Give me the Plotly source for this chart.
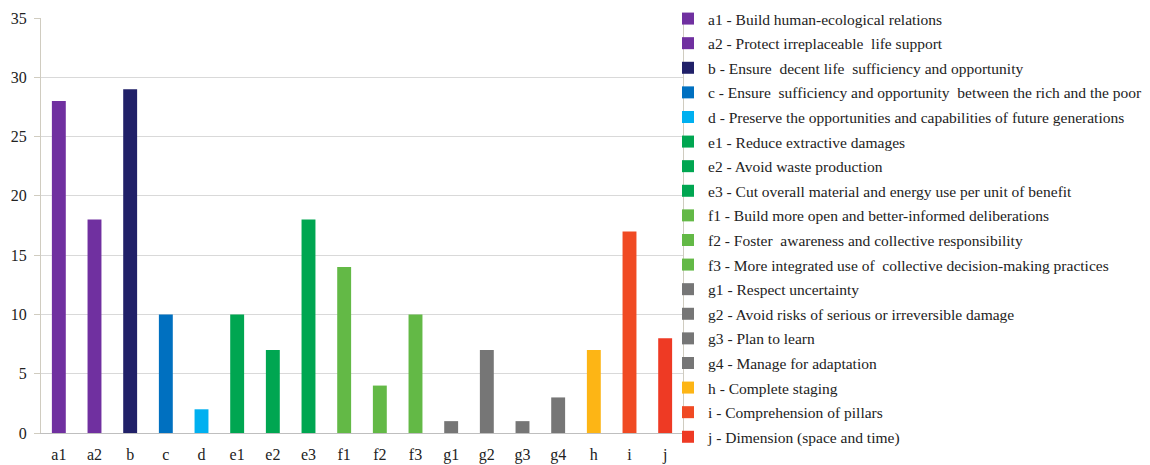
import plotly.graph_objects as go

# Criteria codes, counts and their descriptions
codes = ["a1", "a2", "b", "c", "d", "e1", "e2", "e3", "f1", "f2", "f3",
         "g1", "g2", "g3", "g4", "h", "i", "j"]
counts = [28, 18, 29, 10, 2, 10, 7, 18, 14, 4, 10, 1, 7, 1, 3, 7, 17, 8]
descriptions = [
    "Build human-ecological relations",
    "Protect irreplaceable  life support",
    "Ensure  decent life  sufficiency and opportunity",
    "Ensure  sufficiency and opportunity  between the rich and the poor",
    "Preserve the opportunities and capabilities of future generations",
    "Reduce extractive damages",
    "Avoid waste production",
    "Cut overall material and energy use per unit of benefit",
    "Build more open and better-informed deliberations",
    "Foster  awareness and collective responsibility",
    "More integrated use of  collective decision-making practices",
    "Respect uncertainty",
    "Avoid risks of serious or irreversible damage",
    "Plan to learn",
    "Manage for adaptation",
    "Complete staging",
    "Comprehension of pillars",
    "Dimension (space and time)",
]
colors = ["#7030A0", "#7030A0", "#202068", "#0070C0", "#00B0F0",
          "#00A651", "#00A651", "#00A651", "#63B946", "#63B946", "#63B946",
          "#767676", "#767676", "#767676", "#767676", "#FDB515",
          "#F04A23", "#EE3A24"]

FONT = "Liberation Serif"

fig = go.Figure()
for code, val, desc, col in zip(codes, counts, descriptions, colors):
    fig.add_trace(go.Bar(
        x=[code], y=[val], name=f"{code} - {desc}",
        marker=dict(color=col, line=dict(width=0)),
        legendgroup=code,
    ))

fig.update_layout(
    width=1150, height=465,
    margin=dict(l=41, r=467, t=18, b=32, autoexpand=False),
    paper_bgcolor="white", plot_bgcolor="white",
    barmode="overlay", bargap=0.61,
    font=dict(family=FONT, color="#222222"),
    showlegend=True,
    legend=dict(
        x=668 / 1150, xref="container", xanchor="left",
        y=1 - 2 / 465, yref="container", yanchor="top",
        font=dict(family=FONT, size=15.5, color="#222222"),
        tracegroupgap=1.45,
        maxheight=1.0,
        bgcolor="rgba(0,0,0,0)",
    ),
)

fig.update_xaxes(
    categoryorder="array", categoryarray=codes,
    showgrid=False, showline=True, linecolor="#BFBFBF", linewidth=1,
    ticks="", tickfont=dict(family=FONT, size=16, color="#222222"),
    ticklabelstandoff=7,
)
fig.update_yaxes(
    range=[0, 35], dtick=5,
    showgrid=True, gridcolor="#D9D9D9", gridwidth=1,
    showline=True, linecolor="#D0CCC0", linewidth=1, mirror=True,
    ticks="outside", ticklen=6, tickcolor="#D0CCC0",
    tickfont=dict(family=FONT, size=16, color="#222222"),
    ticklabelstandoff=4, zeroline=False,
)

fig.write_html("out.html")
